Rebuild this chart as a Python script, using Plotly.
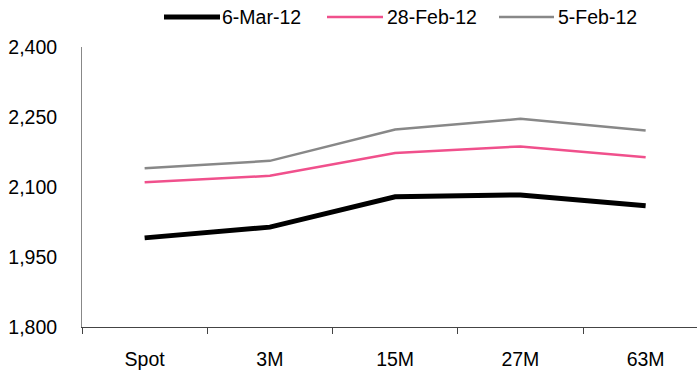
import plotly.graph_objects as go

categories = ["Spot", "3M", "15M", "27M", "63M"]
series_names = ["6-Mar-12", "28-Feb-12", "5-Feb-12"]
mar06 = [1991, 2014, 2079, 2083, 2060]
feb28 = [2110, 2124, 2173, 2187, 2164]
feb05 = [2140, 2156, 2223, 2246, 2221]
y_ticks = [1800, 1950, 2100, 2250, 2400]
y_tick_labels = ["1,800", "1,950", "2,100", "2,250", "2,400"]

FONT = "Liberation Sans, Arial, sans-serif"
FS = 19.5
W, H = 699, 372
ML, MR, MT, MB = 82, 2, 47, 45
PW = W - ML - MR
PH = H - MT - MB

colors = ["#000000", "#F0508C", "#888888"]
widths = [5, 2.5, 2.5]
values = [mar06, feb28, feb05]

fig = go.Figure()
for name, vals, c, w in zip(series_names, values, colors, widths):
    fig.add_trace(go.Scatter(x=categories, y=vals, name=name, mode="lines",
                             line=dict(color=c, width=w), showlegend=False))

# manual legend (pixel layout converted to paper coordinates)
leg_y_px = 17
leg_line_px = [(164, 220), (327, 383), (499, 554)]
leg_text_px = [222, 387, 558]
def px_x(px):
    return (px - ML) / PW
def px_y(py):
    return 1 - (py - MT) / PH
for name, c, w, (x0, x1), tx in zip(series_names, colors, widths, leg_line_px, leg_text_px):
    fig.add_shape(type="line", xref="paper", yref="paper",
                  x0=px_x(x0), x1=px_x(x1), y0=px_y(leg_y_px), y1=px_y(leg_y_px),
                  line=dict(color=c, width=w))
    fig.add_annotation(xref="paper", yref="paper", x=px_x(tx), y=px_y(leg_y_px),
                       text=name, showarrow=False, xanchor="left", yanchor="middle",
                       xshift=-2, font=dict(family=FONT, size=FS, color="#000000"))

fig.update_layout(
    width=W, height=H,
    margin=dict(l=ML, r=MR, t=MT, b=MB, autoexpand=False),
    paper_bgcolor="white", plot_bgcolor="white",
    font=dict(family=FONT, size=FS, color="#000000"),
    showlegend=False,
)

fig.update_xaxes(
    type="category", showgrid=False, zeroline=False,
    showline=True, linecolor="#444444", linewidth=1,
    ticks="outside", tickson="boundaries", ticklen=6, tickcolor="#444444",
    ticklabelstandoff=15, range=[-0.5, 4.41],
)
fig.update_yaxes(
    range=[1800, 2400], tickvals=y_ticks, ticktext=y_tick_labels,
    showgrid=False, zeroline=False,
    showline=True, linecolor="#888888", linewidth=1,
    ticks="", ticklabelstandoff=20,
)

fig.write_html("out.html")
